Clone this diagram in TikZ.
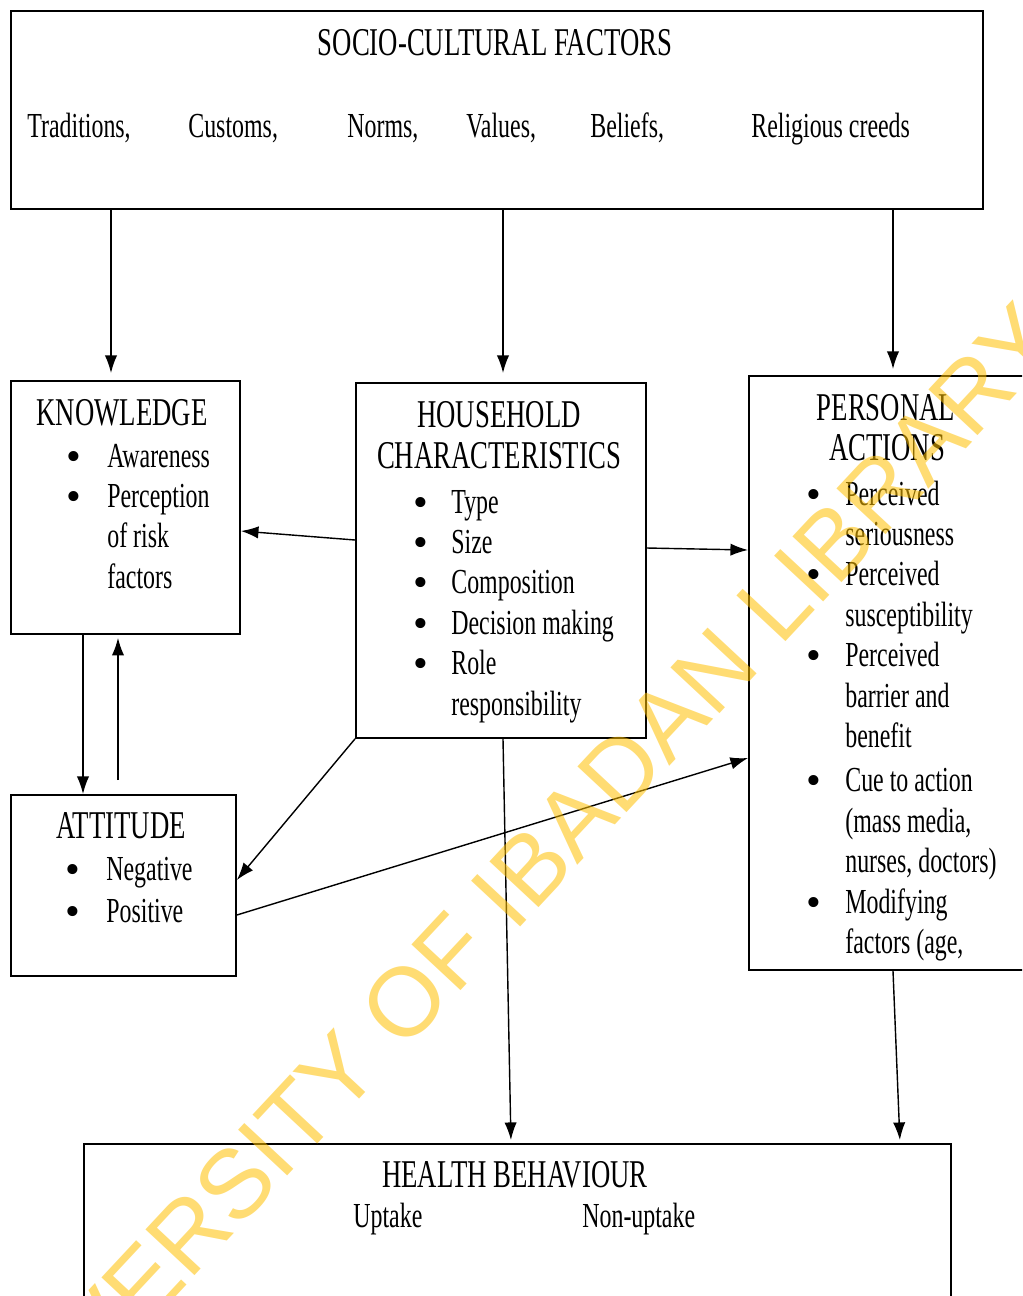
\documentclass[tikz,border=0pt]{standalone}
\usepackage{fontspec}
\setmainfont[FakeStretch=0.68]{Liberation Serif}
\newfontfamily\wmfont{Liberation Sans}
\newfontfamily\bulfont{Liberation Serif}
\usetikzlibrary{arrows.meta}
\tikzset{>=stealth}
\definecolor{wmyellow}{RGB}{255,192,0}
\newcommand{\blt}{\raisebox{-0.06cm}{\bulfont\fontsize{24}{23}\selectfont\textbullet}}

\begin{document}
\begin{tikzpicture}[x=0.02cm, y=-0.02cm,
	box/.style={draw, line width=1.1pt, inner sep=0pt, anchor=north west},
	head/.style={font=\fontsize{22.4}{26}\selectfont, inner sep=0pt, anchor=base},
	txt/.style={font=\fontsize{20}{23}\selectfont, inner sep=0pt, anchor=base west},
	arr/.style={-{Latex[length=10pt, width=7pt]}, line width=0.8pt},
	wmark/.style={font=\wmfont\fontsize{55.5}{60}\selectfont, text=wmyellow, text opacity=0.55, inner sep=0pt}]
	\clip (0,0) rectangle (1022,1296);
	\fill[white] (0,0) rectangle (1022,1296);
	% boxes
	\node[box, minimum width=19.44cm, minimum height=3.96cm] (soc) at (10,10) {};
	\node[box, minimum width=4.58cm, minimum height=5.06cm] (know) at (10,380) {};
	\node[box, minimum width=5.8cm, minimum height=7.1cm] (house) at (355,382) {};
	\node[box, minimum width=5.64cm, minimum height=11.88cm] (pers) at (748,375) {};
	\node[box, minimum width=4.5cm, minimum height=3.62cm] (att) at (10,794) {};
	\node[box, minimum width=17.34cm, minimum height=4cm] (health) at (83,1143) {};
	% socio-cultural factors
	\node[head] (sochead) at (495,55) {SOCIO-CULTURAL FACTORS};
	\foreach \w/\x [count=\i] in {{Traditions,}/27, {Customs,}/188, {Norms,}/347, {Values,}/466, {Beliefs,}/590, {Religious creeds}/751}
	\node[txt] (fac\i) at (\x,137) {\w};
	% knowledge
	\node[head] (knowhead) at (122,425) {KNOWLEDGE};
	\node[txt] (knowlist) at (66,467) {\begin{tabular}[t]{@{}p{0.82cm}@{}l@{}}
		\blt & Awareness\\ \blt & Perception\\ & of risk\\ & factors
	\end{tabular}};
	% household
	\node[head] (househead) at (499,427) {HOUSEHOLD};
	\node[head] (househead2) at (499,468) {CHARACTERISTICS};
	\node[txt] (houselist) at (413,513) {\begin{tabular}[t]{@{}p{0.76cm}@{}l@{}}
		\blt & Type\\ \blt & Size\\ \blt & Composition\\
		\blt & Decision making\\ \blt & Role\\ & responsibility
	\end{tabular}};
	% personal actions
	\node[head] (pershead) at (886,420) {PERSONAL};
	\node[head] (pershead2) at (887,460) {ACTIONS};
	\node[txt] (perslist) at (806,505) {\begin{tabular}[t]{@{}p{0.78cm}@{}l@{}}
		\blt & Perceived\\ & seriousness\\ \blt & Perceived\\ & susceptibility\\
		\blt & Perceived\\ & barrier and\\ & benefit\\[0.08cm]
		\blt & Cue to action\\ & (mass media,\\ & nurses, doctors)\\
		\blt & Modifying\\ & factors (age,
	\end{tabular}};
	% attitude
	\node[head] (atthead) at (121,838) {ATTITUDE};
	\node[txt] (attlist) at (65,880) {\begin{tabular}[t]{@{}p{0.82cm}@{}l@{}}
		\blt & Negative\\[0.05cm] \blt & Positive
	\end{tabular}};
	% health behaviour
	\node[head] (healthhead) at (515,1187) {HEALTH BEHAVIOUR};
	\node[txt] (uptake) at (353,1227) {Uptake};
	\node[txt] (nonuptake) at (582,1227) {Non-uptake};
	% arrows
	\draw[arr, shorten >=0.14cm] (soc.south -| 111,0) -- (know.north -| 111,0);
	\draw[arr, shorten >=0.18cm] (soc.south -| 503,0) -- (house.north -| 503,0);
	\draw[arr, shorten >=0.12cm] (soc.south -| 893,0) -- (pers.north -| 893,0);
	\draw[arr] (house.west |- 0,540) -- (know.east |- 0,531);
	\draw[arr] (house.east |- 0,548) -- (pers.west |- 0,550);
	\draw[arr] (know.south -| 83,0) -- (att.north -| 83,0);
	\draw[arr, shorten <=0.28cm, shorten >=0.06cm] (att.north -| 118,0) -- (know.south -| 118,0);
	\draw[arr] (house.south west) -- (att.east |- 0,880);
	\draw[arr] (att.east |- 0,915) -- (pers.west |- 0,758);
	\draw[arr, shorten >=0.06cm] (house.south -| 503,0) -- (health.north -| 511,0);
	\draw[arr, shorten >=0.06cm] (pers.south -| 893,0) -- (health.north -| 900,0);
	% watermark
	\node[wmark, rotate=47, anchor=base west] (wm) at (-14,1500) {UNIVERSITY OF IBADAN LIBRARY};
\end{tikzpicture}
\end{document}
